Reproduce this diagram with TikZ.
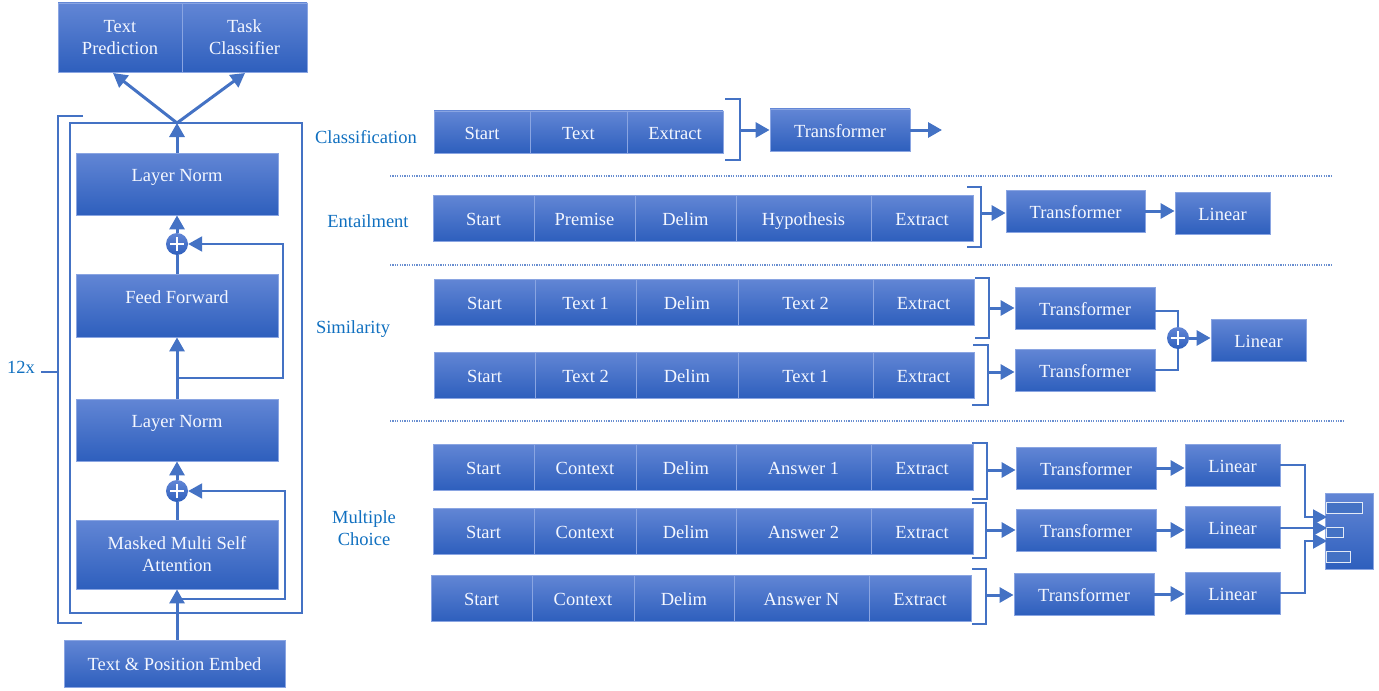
\documentclass[tikz,border=0pt]{standalone}
\usepackage{fontspec}
\setmainfont{Liberation Serif}
\usetikzlibrary{arrows.meta,calc}
\definecolor{topc}{RGB}{98,134,213}
\definecolor{botc}{RGB}{46,95,189}
\definecolor{bordc}{RGB}{138,165,226}
\definecolor{linec}{RGB}{68,114,196}
\definecolor{labc}{RGB}{16,112,192}
\definecolor{txtc}{RGB}{244,247,255}
\newcommand\bx[7][]{\node[blk,minimum width={(#5-#3)*1bp},minimum height={(#6-#4)*1bp},#1] (#2) at ({(#3+#5)/2},{(#4+#6)/2}) {#7};}
\begin{document}
\begin{tikzpicture}[x=1bp,y=-1bp,
  blk/.style={draw=bordc,line width=0.9bp,top color=topc,bottom color=botc,text=txtc,
    font=\fontsize{18.5bp}{22bp}\selectfont,inner sep=0pt,text height=15.5bp,text depth=1bp,align=center},
  two/.style={text height=,text depth=},
  lbl/.style={text=labc,font=\fontsize{18.5bp}{22bp}\selectfont,inner sep=0pt,align=center},
  tip/.style={-{Triangle[length=14bp,width=15bp]}},
  arr/.style={draw=linec,line width=3bp,tip},
  res/.style={draw=linec,line width=2bp,tip},
  ln/.style={draw=linec,line width=3bp},
  sln/.style={draw=linec,line width=2bp},
  brk/.style={draw=linec,line width=1.6bp},
  dots/.style={draw=linec!80,line width=1.2bp,dash pattern=on 1.2bp off 1.2bp},
  barst/.style={draw=white!85!linec,line width=1bp,fill=linec},
  plus/.style={circle,minimum size=22bp,inner sep=0pt,top color=topc,bottom color=botc,
    path picture={\draw[white,line width=1.5bp]
      ([xshift=-7bp]path picture bounding box.center) -- ([xshift=7bp]path picture bounding box.center)
      ([yshift=-7bp]path picture bounding box.center) -- ([yshift=7bp]path picture bounding box.center);}}
]
\useasboundingbox (0,0) rectangle (1379,690);
\fill[white] (0,0) rectangle (1379,690);

% ---------------- left column ----------------
\bx[two]{tp}{58}{3}{182}{72}{Text\\Prediction}
\bx[two]{tc}{182}{3}{307}{72}{Task\\Classifier}
\draw[brk] (70,123) rectangle (302,613);
\draw[brk] (83,116) -- (58,116) -- (58,623) -- (82,623);
\draw[brk] (41,372) -- (58,372);
\node[lbl] (l12) at (21,367) {12x};
\bx[text depth=20bp]{lna}{76}{153}{278}{215}{Layer Norm}
\bx[text depth=19bp]{ff}{76}{274}{278}{337}{Feed Forward}
\bx[text depth=20bp]{lnb}{76}{399}{278}{461}{Layer Norm}
\bx[two]{mm}{76}{520}{278}{589}{Masked Multi Self\\Attention}
\bx{emb}{64}{640}{285}{687}{Text \& Position Embed}
\node[plus] (pa) at (177,244) {};
\node[plus] (pb) at (177,491) {};
\coordinate (vtx) at (177,123);
\coordinate (tpin) at (113,73);
\coordinate (tcin) at (245,73);
\coordinate (r1) at (177,378);
\coordinate (r2) at (177,599);
\coordinate (ra) at (283,378);
\coordinate (rb) at (285,599);
\draw[arr] (emb.north -| mm.south) -- (mm.south);
\draw[ln] (mm.north) -- (pb.south);
\draw[arr] (pb.north) -- (lnb.south);
\draw[arr] (lnb.north) -- (ff.south);
\draw[ln] (ff.north) -- (pa.south);
\draw[arr] (pa.north) -- (lna.south);
\draw[arr] (lna.north) -- (vtx);
\draw[arr] (vtx) -- (tpin);
\draw[arr] (vtx) -- (tcin);
\draw[res] (r2) -- (rb) |- (pb.east);
\draw[res] (r1) -- (ra) |- (pa.east);

% ---------------- separators & labels ----------------
\draw[dots] (390,176) -- (1332,176);
\draw[dots] (390,265) -- (1332,265);
\draw[dots] (390,421) -- (1343,421);
\node[lbl] (lc) at (366,137) {Classification};
\node[lbl] (le) at (368,221) {Entailment};
\node[lbl] (ls) at (353,329) {Similarity};
\node[lbl] (lm) at (364,528) {Multiple\\Choice};

% ---------------- classification ----------------
\bx{cs}{434}{111}{530}{153}{Start}
\bx{ct}{530}{111}{627}{153}{Text}
\bx{ce}{627}{111}{723}{153}{Extract}
\bx{ctr}{770}{109}{910}{151}{Transformer}
\draw[brk] (725,99) -- (740,99) -- (740,160) -- (725,160);
\coordinate (cb) at (740,130);
\coordinate (cout) at (942,130);
\draw[arr] (cb) -- (cb -| ctr.west);
\draw[arr] (ctr.east |- cout) -- (cout);

% ---------------- entailment ----------------
\bx{es}{433}{195}{534}{241}{Start}
\bx{ep}{534}{195}{635}{241}{Premise}
\bx{ed}{635}{195}{736}{241}{Delim}
\bx{eh}{736}{195}{871}{241}{Hypothesis}
\bx{ee}{871}{195}{973}{241}{Extract}
\bx{etr}{1006}{190}{1145}{232}{Transformer}
\bx{el}{1175}{192}{1270}{234}{Linear}
\draw[brk] (967,187) -- (981,187) -- (981,247) -- (967,247);
\coordinate (eb) at (981,213);
\draw[arr] (eb) -- (eb -| etr.west);
\draw[arr] (etr.east) -- (etr.east -| el.west);

% ---------------- similarity ----------------
\bx{s1a}{434}{279}{535}{325}{Start}
\bx{s1b}{535}{279}{636}{325}{Text 1}
\bx{s1c}{636}{279}{738}{325}{Delim}
\bx{s1d}{738}{279}{873}{325}{Text 2}
\bx{s1e}{873}{279}{974}{325}{Extract}
\bx{s2a}{434}{352}{535}{398}{Start}
\bx{s2b}{535}{352}{636}{398}{Text 2}
\bx{s2c}{636}{352}{738}{398}{Delim}
\bx{s2d}{738}{352}{873}{398}{Text 1}
\bx{s2e}{873}{352}{974}{398}{Extract}
\bx{str1}{1015}{287}{1155}{329}{Transformer}
\bx{str2}{1015}{349}{1155}{391}{Transformer}
\bx{sl}{1211}{319}{1306}{361}{Linear}
\node[plus] (sp) at (1178,338) {};
\draw[brk] (975,278) -- (989,278) -- (989,338) -- (975,338);
\draw[brk] (973,345) -- (988,345) -- (988,405) -- (972,405);
\coordinate (sb1) at (989,308);
\coordinate (sb2) at (988,372);
\draw[arr] (sb1) -- (sb1 -| str1.west);
\draw[arr] (sb2) -- (sb2 -| str2.west);
\draw[sln] ([yshift=-3bp]str1.east) -| (sp.north);
\draw[sln] (str2.east) -| (sp.south);
\draw[arr] (sp.east) -- (sp.east -| sl.west);

% ---------------- multiple choice ----------------
\bx{m1a}{433}{444}{534}{490}{Start}
\bx{m1b}{534}{444}{636}{490}{Context}
\bx{m1c}{636}{444}{736}{490}{Delim}
\bx{m1d}{736}{444}{871}{490}{Answer 1}
\bx{m1e}{871}{444}{973}{490}{Extract}
\bx{m2a}{433}{508}{534}{554}{Start}
\bx{m2b}{534}{508}{636}{554}{Context}
\bx{m2c}{636}{508}{736}{554}{Delim}
\bx{m2d}{736}{508}{871}{554}{Answer 2}
\bx{m2e}{871}{508}{973}{554}{Extract}
\bx{m3a}{431}{575}{532}{621}{Start}
\bx{m3b}{532}{575}{634}{621}{Context}
\bx{m3c}{634}{575}{734}{621}{Delim}
\bx{m3d}{734}{575}{869}{621}{Answer N}
\bx{m3e}{869}{575}{971}{621}{Extract}
\draw[brk] (972,443) -- (987,443) -- (987,499) -- (972,499);
\draw[brk] (972,503) -- (986,503) -- (986,558) -- (972,558);
\draw[brk] (972,569) -- (986,569) -- (986,624) -- (972,624);
\bx{mt1}{1016}{447}{1156}{489}{Transformer}
\bx{mt2}{1016}{509}{1156}{551}{Transformer}
\bx{mt3}{1014}{573}{1154}{615}{Transformer}
\bx{ml1}{1185}{444}{1280}{486}{Linear}
\bx{ml2}{1185}{506}{1280}{548}{Linear}
\bx{ml3}{1185}{572}{1280}{614}{Linear}
\coordinate (mb1) at (987,470);
\coordinate (mb2) at (986,530);
\coordinate (mb3) at (986,595);
\draw[arr] (mb1) -- (mb1 -| mt1.west);
\draw[arr] (mb2) -- (mb2 -| mt2.west);
\draw[arr] (mb3) -- (mb3 -| mt3.west);
\draw[arr] (mt1.east) -- (mt1.east -| ml1.west);
\draw[arr] (mt2.east) -- (mt2.east -| ml2.west);
\draw[arr] (mt3.east) -- (mt3.east -| ml3.west);
\bx{ob}{1325}{493}{1373}{569}{}
\draw[barst] (1326,502) rectangle (1362,513);
\draw[barst] (1326,527) rectangle (1343,537);
\draw[barst] (1326,551) rectangle (1350,562);
\coordinate (o1) at (1327,517);
\coordinate (o2) at (1327,528);
\coordinate (o3) at (1327,541);
\draw[res] (ml1.east) -- ++(25,0) |- (o1);
\draw[res] (ml2.east |- o2) -- (o2);
\draw[res] (ml3.east) -- ++(25,0) |- (o3);
\end{tikzpicture}
\end{document}
